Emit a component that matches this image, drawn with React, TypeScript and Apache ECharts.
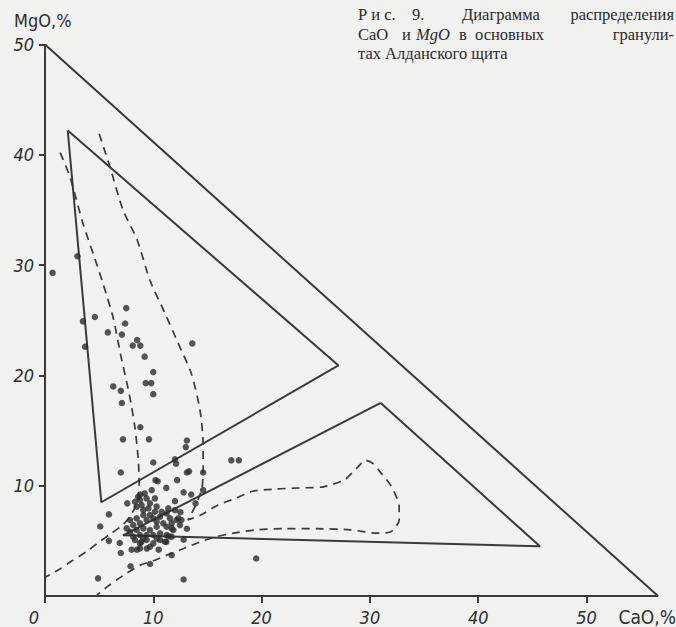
import React, { useEffect, useRef } from 'react';
import * as echarts from 'echarts';

// Axis ranges and tick labels
const CAO_MAX = 56.6;
const MGO_MAX = 50;
const CAO_TICKS = [0, 10, 20, 30, 40, 50];
const MGO_TICKS = [10, 20, 30, 40, 50];

// Solid boundary triangles [CaO, MgO]
const outerTriangle = [[0, 50], [0, 0], [56.6, 0], [0, 50]];
const upperTriangle = [[2.1, 42.2], [5.2, 8.5], [27.1, 20.9], [2.1, 42.2]];
const lowerTriangle = [[31.0, 17.5], [7.2, 5.5], [45.7, 4.5], [31.0, 17.5]];

// Dashed contours [CaO, MgO]
const leftDashed = [
  [1.4, 40.2], [2.3, 38.0], [3.5, 33.8], [4.6, 30.6], [5.4, 28.2], [6.3, 25.2],
  [7.0, 21.8], [7.8, 18.2], [8.3, 15.3], [8.6, 12.5], [8.7, 10.2], [8.6, 9.0],
  [8.3, 8.0], [7.7, 7.0], [7.0, 6.3], [6.0, 5.6], [5.0, 4.9], [3.8, 4.0],
  [2.5, 3.2], [1.3, 2.4], [0, 1.7],
];
const rightDashed = [
  [5.0, 41.9], [6.0, 38.9], [7.2, 35.0], [8.5, 32.3], [9.7, 28.6], [11.0, 25.8],
  [12.3, 22.9], [13.5, 20.2], [14.3, 16.9], [14.6, 13.8], [14.6, 11.5], [14.5, 9.8],
  [14.2, 8.9], [13.8, 8.0], [13.2, 6.9], [14.3, 7.3], [15.9, 8.2], [17.7, 8.9],
  [19.2, 9.5], [21.4, 9.7], [23.5, 9.8], [25.7, 9.9], [27.6, 10.5], [28.8, 11.6],
  [29.6, 12.3], [30.3, 12.0], [30.9, 11.3], [32.0, 9.9], [32.7, 8.1], [32.7, 6.9],
  [31.9, 5.8], [30.6, 5.7], [28.2, 6.0], [25.1, 6.1], [22.0, 6.1], [19.5, 6.0],
  [17.4, 5.7], [15.9, 5.4], [14.3, 4.9], [12.8, 4.3], [11.5, 3.8], [10.0, 3.2],
  [8.8, 2.8], [7.6, 2.1], [6.6, 1.45], [5.7, 0.8], [4.8, 0.1],
];

// Sample points [CaO, MgO]
const dots = [
  [0.7, 29.3], [3.0, 30.8], [3.5, 24.9], [3.7, 22.6], [4.6, 25.3], [7.5, 26.1],
  [7.4, 24.7], [5.8, 23.9], [7.1, 23.7], [8.5, 23.2], [8.1, 22.7], [8.8, 22.7],
  [13.6, 22.9], [9.2, 21.7], [10.0, 20.3], [9.3, 19.3], [9.8, 19.3], [10.0, 18.3],
  [6.3, 19.0], [7.0, 18.6], [7.1, 17.5], [8.8, 15.3], [7.2, 14.2], [9.6, 14.2],
  [13.1, 14.1], [13.0, 13.5], [17.2, 12.3], [17.9, 12.3], [7.0, 11.2], [10.0, 12.1],
  [12.0, 12.4], [12.1, 12.0], [13.1, 11.2], [13.3, 11.3], [14.6, 11.2], [10.2, 10.5],
  [10.4, 10.4], [11.2, 9.8], [12.2, 10.5], [12.8, 9.4], [13.5, 9.2], [14.6, 9.6],
  [7.6, 8.4], [5.9, 7.4], [5.1, 6.3], [12.0, 8.6], [12.5, 7.6], [13.9, 8.4],
  [13.1, 6.1], [5.9, 5.0], [6.9, 4.8], [7.0, 3.9], [7.9, 2.7], [4.9, 1.6],
  [9.7, 2.9], [11.7, 3.7], [12.8, 5.1], [12.8, 1.5], [19.5, 3.4], [10.5, 4.2],
  [8.5, 4.2], [9.4, 4.3], [8.9, 4.9], [11.2, 4.9], [11.4, 5.4], [9.85, 9.6],
  [8.8, 9.2], [9.2, 9.3], [8.6, 9.0], [8.0, 4.2],
  [8.77, 8.7], [9.38, 8.85], [8.46, 8.1], [9.08, 7.79], [9.69, 8.4], [10.15, 8.85],
  [10.31, 8.1], [7.54, 6.13], [8.15, 6.43], [8.77, 6.59], [9.38, 6.89], [10.0, 7.04],
  [10.62, 7.19], [11.23, 7.49], [10.92, 6.59], [10.31, 6.28], [9.69, 5.98], [9.08, 6.13],
  [8.46, 5.98], [7.85, 5.83], [11.23, 6.28], [11.69, 6.59], [11.85, 5.98], [12.15, 6.89],
  [12.46, 6.43], [8.31, 5.08], [8.77, 4.77], [9.38, 5.08], [10.0, 4.77], [10.62, 5.08],
  [11.08, 4.92], [8.77, 4.32], [9.69, 4.47], [12.0, 7.79], [12.31, 7.04], [11.69, 6.13],
  [12.6, 6.89],
  [8.31, 8.55], [8.92, 8.25], [9.54, 7.95], [10.15, 7.64], [10.77, 7.64], [11.38, 7.95],
  [7.85, 6.89], [8.46, 7.04], [9.08, 7.34], [9.69, 7.34], [10.31, 6.74], [11.54, 7.04],
  [8.15, 5.38], [8.77, 5.53], [9.38, 5.53], [10.0, 5.53], [10.62, 5.68], [11.23, 5.53],
  [11.69, 5.38], [9.08, 5.23], [10.31, 5.23],
];

const INK = '#3a3a3a';
const LABEL_FONT = "'DejaVu Sans Condensed', 'Liberation Sans Narrow', 'Roboto Condensed', 'DejaVu Sans', sans-serif";
const SERIF = "'Liberation Serif', 'DejaVu Serif', serif";

export default function App() {
  const ref = useRef<HTMLDivElement>(null);
  useEffect(() => {
    const chart = echarts.init(ref.current!, null, { renderer: 'svg' });
    const solid = (data: number[][]) => ({
      type: 'line', data, symbol: 'none', silent: true, z: 2,
      lineStyle: { color: INK, width: 2 },
    });
    const dashed = (data: number[][]) => ({
      type: 'line', data, symbol: 'none', silent: true, z: 2, smooth: 0.25,
      lineStyle: { color: INK, width: 1.7, type: [8, 6] },
    });
    const caption = (text: string, x: number, y: number, align = 'left', italic = false) => ({
      type: 'text', x, y,
      style: {
        text, fill: '#2a2a2a', align, verticalAlign: 'middle', lineHeight: 16,
        font: `${italic ? 'italic ' : ''}16.5px ${SERIF}`,
      },
    });
    chart.setOption({
      animation: false,
      backgroundColor: '#f1f1f0',
      grid: { left: 45, top: 44.5, width: 613, height: 551.5 },
      xAxis: {
        type: 'value', min: 0, max: CAO_MAX,
        axisLine: { show: false },
        splitLine: { show: false },
        axisTick: { show: true, length: 7, customValues: CAO_TICKS, lineStyle: { color: INK, width: 2 } },
        axisLabel: {
          customValues: CAO_TICKS, margin: 12, color: '#2e2e2e', fontSize: 18,
          fontStyle: 'italic', fontFamily: LABEL_FONT,
          formatter: (v: number) => (v === 0 ? '{z|0}' : String(v)),
          rich: { z: { padding: [0, 22, 0, 0], fontSize: 18, fontStyle: 'italic', fontFamily: LABEL_FONT, color: '#2e2e2e' } },
        },
      },
      yAxis: {
        type: 'value', min: 0, max: MGO_MAX,
        axisLine: { show: false },
        splitLine: { show: false },
        axisTick: { show: true, length: 6, customValues: MGO_TICKS, lineStyle: { color: INK, width: 2 } },
        axisLabel: {
          customValues: MGO_TICKS, margin: 11, color: '#2e2e2e', fontSize: 18,
          fontStyle: 'italic', fontFamily: LABEL_FONT,
        },
      },
      graphic: [
        { type: 'text', x: 14, y: 20, style: { text: 'MgO,%', fill: '#2e2e2e', align: 'left', verticalAlign: 'middle', font: `18px ${LABEL_FONT}` } },
        { type: 'text', x: 676, y: 617, style: { text: 'CaO,%', fill: '#2e2e2e', align: 'right', verticalAlign: 'middle', font: `19px ${LABEL_FONT}` } },
        caption('Р и с.', 358, 14.5),
        caption('9.', 412, 14.5),
        caption('Диаграмма', 462, 14.5),
        caption('распределения', 674, 14.5, 'right'),
        caption('CaO', 358, 34),
        caption('и', 402, 34),
        caption('MgO', 416, 34, 'left', true),
        caption('в', 459, 34),
        caption('основных', 475, 34),
        caption('гранули-', 674, 34, 'right'),
        caption('тах Алданского щита', 358, 53.5),
      ],
      series: [
        solid(outerTriangle),
        solid(upperTriangle),
        solid(lowerTriangle),
        dashed(leftDashed),
        dashed(rightDashed),
        {
          type: 'scatter', data: dots, symbol: 'circle', symbolSize: 6.5, z: 3, silent: true,
          itemStyle: { color: '#2c2c2c' },
        },
      ],
    });
    return () => chart.dispose();
  }, []);
  return <div ref={ref} style={{ position: 'absolute', left: 0, top: 0, width: 676, height: 627 }} />;
}
